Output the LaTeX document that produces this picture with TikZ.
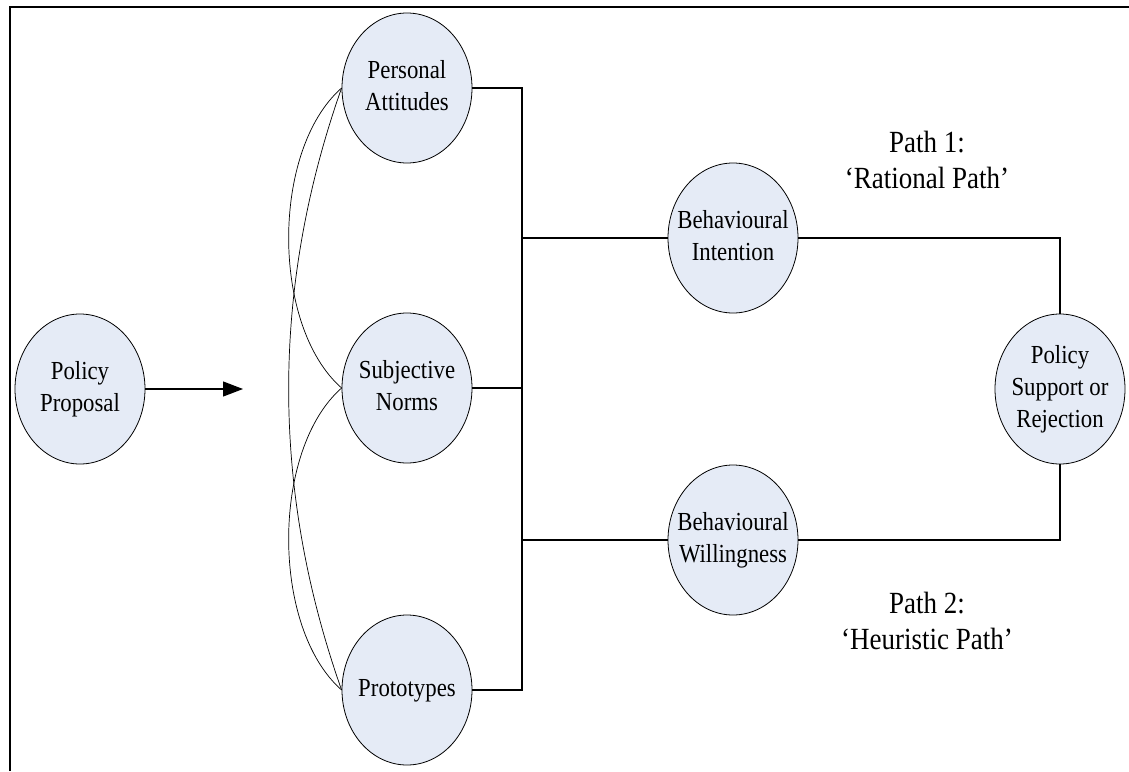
\documentclass[tikz,border=0pt]{standalone}
\usepackage{fontspec}
\setmainfont{Liberation Serif}
\usetikzlibrary{arrows.meta,shapes.geometric}
\definecolor{nodefill}{RGB}{229,235,246}
\newcommand{\eltxt}[1]{\makebox[0pt]{\scalebox{1}[1.14]{\fontsize{22.8}{27.8}\selectfont\begin{tabular}{@{}c@{}}#1\end{tabular}}}}
\newcommand{\pathtxt}[1]{\scalebox{1}[1.14]{\fontsize{27}{31.6}\selectfont\begin{tabular}{@{}c@{}}#1\end{tabular}}}
\tikzset{
  ell/.style={ellipse, draw=black, line width=0.8pt, fill=nodefill, minimum width=130pt, minimum height=150pt, inner sep=0pt},
  conn/.style={line width=1.2pt},
  crv/.style={line width=0.7pt},
  frameline/.style={line width=1.6pt},
  pathlbl/.style={inner sep=0pt}
}
\begin{document}
\begin{tikzpicture}[x=1pt,y=-1pt]
\useasboundingbox (0,0) rectangle (1129,771);
\draw[frameline] (10,771) -- (10,7) -- (1129,7);

\node[ell] (PP) at (80,389) {\eltxt{Policy\\Proposal}};
\node[ell] (PA) at (407,88) {\eltxt{Personal\\Attitudes}};
\node[ell] (SN) at (407,388) {\eltxt{Subjective\\Norms}};
\node[ell] (PT) at (407,690) {\eltxt{Prototypes}};
\node[ell] (BI) at (733,238) {\eltxt{Behavioural\\Intention}};
\node[ell] (BW) at (733,540) {\eltxt{Behavioural\\Willingness}};
\node[ell] (PS) at (1060,389) {\eltxt{Policy\\Support or\\Rejection}};

\node[pathlbl] (L1) at (927,163) {\pathtxt{Path 1:\\`Rational Path'}};
\node[pathlbl] (L2) at (927,624) {\pathtxt{Path 2:\\`Heuristic Path'}};

\coordinate (ah) at (243,389);
\draw[conn,-{Triangle[length=20pt,width=15pt]}] (PP.east) -- (ah);

\coordinate (bus) at (522,389);
\draw[conn] (PA.east) -| (bus) |- (PT.east);
\draw[conn] (SN.east) -- (SN.east -| bus);
\draw[conn] (BI.west) -- (BI.west -| bus);
\draw[conn] (BW.west) -- (BW.west -| bus);
\draw[conn] (BI.east) -| (PS.north);
\draw[conn] (BW.east) -| (PS.south);

\draw[crv] (PA.west) .. controls (271,150) and (271,326) .. (SN.west);
\draw[crv] (SN.west) .. controls (271,450) and (271,628) .. (PT.west);
\draw[crv] (PA.west) .. controls (271,288) and (271,490) .. (PT.west);
\end{tikzpicture}
\end{document}
